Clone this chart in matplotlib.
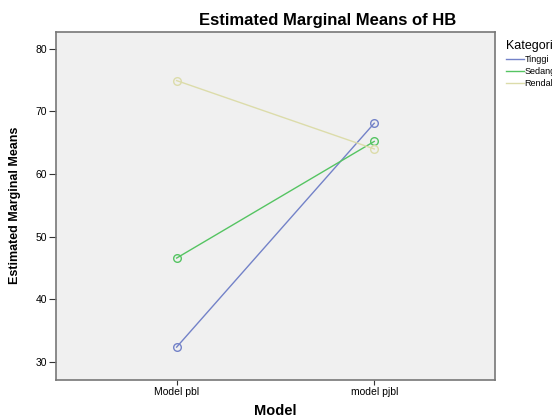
import matplotlib
matplotlib.use("Agg")
import matplotlib.pyplot as plt
from matplotlib import font_manager

plt.rcParams['font.family'] = ['Liberation Sans', 'DejaVu Sans']

# Estimated marginal means of HB by Model and Kategori
models = ['Model pbl', 'model pjbl']
kategori = ['Tinggi', 'Sedang', 'Rendah']
tinggi = [32.4, 68.1]
sedang = [46.6, 65.2]
rendah = [74.9, 64.0]
colors = ['#7382c8', '#55c462', '#dcdcaa']

names = {f.name for f in font_manager.fontManager.ttflist}
narrow = 'Liberation Sans Narrow' if 'Liberation Sans Narrow' in names else 'Liberation Sans'

fig = plt.figure(figsize=(5.52, 4.18), dpi=100)
ax = fig.add_axes([0.1009, 0.0916, 0.7958, 0.8326])
ax.set_facecolor('#f0f0f0')

x = list(range(len(models)))
for name, vals, c in zip(kategori, [tinggi, sedang, rendah], colors):
    ax.plot(x, vals, color=c, lw=1.0, marker='o', ms=5.5, mfc='none', mec=c, mew=1.0, label=name)

ax.set_xlim(-0.612, 1.611)
ax.set_ylim(27.2, 82.7)
ax.set_xticks(x)
ax.set_xticklabels(models)
ax.set_yticks([30, 40, 50, 60, 70, 80])
ax.tick_params(axis='x', labelsize=7.5, length=3.6, pad=2, width=0.8, colors='#333333', labelcolor='black')
ax.tick_params(axis='y', labelsize=7.5, length=5, pad=1, width=0.8, colors='#333333', labelcolor='black')
for s in ax.spines.values():
    s.set_color('#777777')
    s.set_linewidth(1.2)

ax.set_xlabel('Model', fontsize=10.5, fontweight='bold', labelpad=5)
ax.set_ylabel('Estimated Marginal Means', fontsize=9 if narrow == 'Liberation Sans' else 10.5,
              fontweight='bold', family=[narrow, 'DejaVu Sans'])
ax.yaxis.set_label_coords(-0.079, 0.5)
fig.text(0.594, 0.952, 'Estimated Marginal Means of HB', fontsize=12, fontweight='bold',
         ha='center', va='center')

leg = ax.legend(title='Kategori', loc='upper left', bbox_to_anchor=(0.916, 0.905),
                bbox_transform=fig.transFigure, frameon=False, fontsize=6.5, title_fontsize=9,
                handlelength=2.0, handletextpad=0.1, labelspacing=0.35, borderaxespad=0,
                borderpad=0)
leg._legend_box.align = 'left'
for h in leg.legend_handles:
    h.set_marker('')

fig.savefig('out.png', dpi=100)
